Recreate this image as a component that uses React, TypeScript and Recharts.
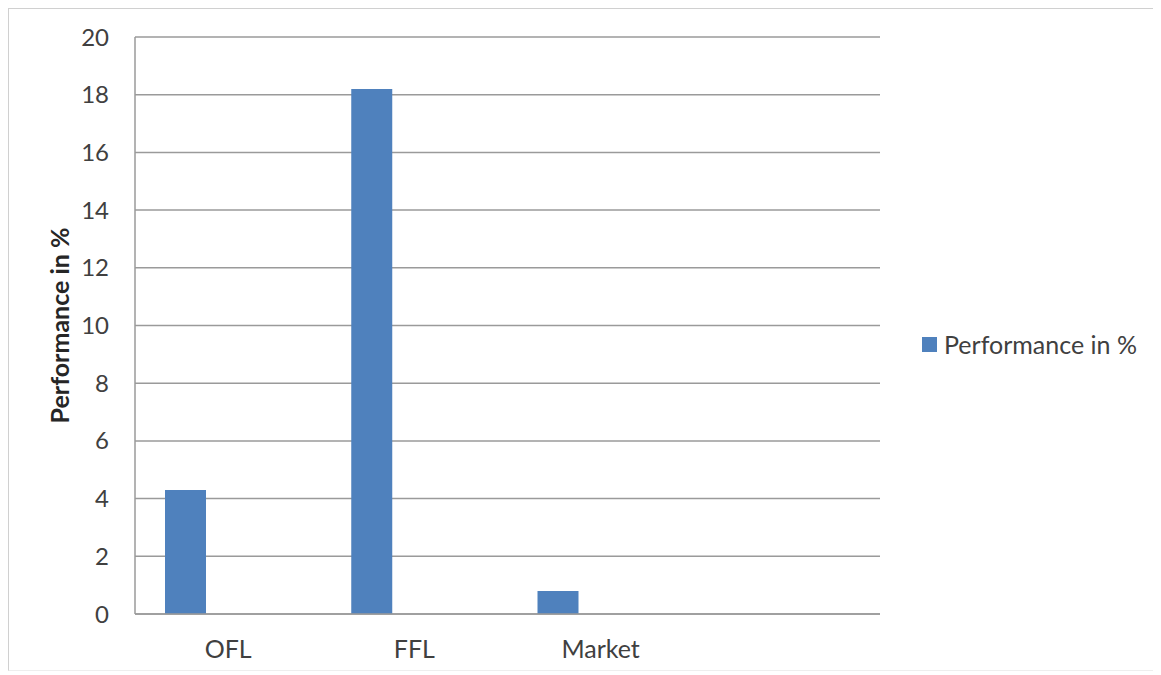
import React from 'react';
import { BarChart, Bar, XAxis, YAxis, CartesianGrid, Legend } from 'recharts';

const categories = ['OFL', 'FFL', 'Market', ''];
const performance = [4.3, 18.2, 0.8, null];
const spacer = [null, null, null, null];
const yTicks = [0, 2, 4, 6, 8, 10, 12, 14, 16, 18, 20];
const seriesName = 'Performance in %';

const data = categories.map((c, i) => ({ name: c, perf: performance[i], spacer: spacer[i] }));

const FONT = 'Lato, "Noto Sans", sans-serif';

const renderLegend = () => (
  <div style={{ display: 'flex', alignItems: 'center', fontFamily: FONT, fontSize: 25, color: '#404040', whiteSpace: 'nowrap' }}>
    <span style={{ display: 'inline-block', width: 15, height: 15, background: '#4F81BD', marginRight: 7 }} />
    <span>{seriesName}</span>
  </div>
);

export default function App() {
  return (
    <div style={{ width: 1151, height: 661, border: '1px solid #d0d0d0', borderBottomColor: '#eeeeee', background: '#fff', position: 'relative' }}>
      <BarChart
        width={1151}
        height={661}
        data={data}
        margin={{ top: 28, right: 280, bottom: 31, left: 0 }}
        barGap={44}
        barSize={41}
      >
        <CartesianGrid horizontal vertical={false} stroke="#9a9a9a" strokeWidth={1.5} />
        <XAxis
          dataKey="name"
          axisLine={{ stroke: '#9a9a9a', strokeWidth: 1.5 }}
          tickLine={false}
          tickSize={0}
          tickMargin={26}
          height={25}
          interval={0}
          tick={{ fill: '#404040', fontSize: 25, fontFamily: FONT }}
        />
        <YAxis
          width={126}
          domain={[0, 20]}
          ticks={yTicks}
          interval={0}
          axisLine={{ stroke: '#9a9a9a', strokeWidth: 1.5 }}
          tickLine={false}
          tickSize={0}
          tickMargin={26}
          tick={{ fill: '#404040', fontSize: 24, fontFamily: FONT }}
          label={{
            value: seriesName,
            angle: -90,
            position: 'insideLeft',
            offset: 51,
            style: { textAnchor: 'middle', fontFamily: FONT, fontSize: 25, fontWeight: 'bold', fill: '#262626' },
          }}
        />
        <Legend
          layout="horizontal"
          verticalAlign="middle"
          align="center"
          content={renderLegend}
          wrapperStyle={{ position: 'absolute', left: 913, top: 320, width: 'auto', right: 'auto', bottom: 'auto' }}
        />
        <Bar dataKey="perf" name={seriesName} fill="#4F81BD" isAnimationActive={false} />
        <Bar dataKey="spacer" fill="transparent" legendType="none" isAnimationActive={false} />
      </BarChart>
    </div>
  );
}
